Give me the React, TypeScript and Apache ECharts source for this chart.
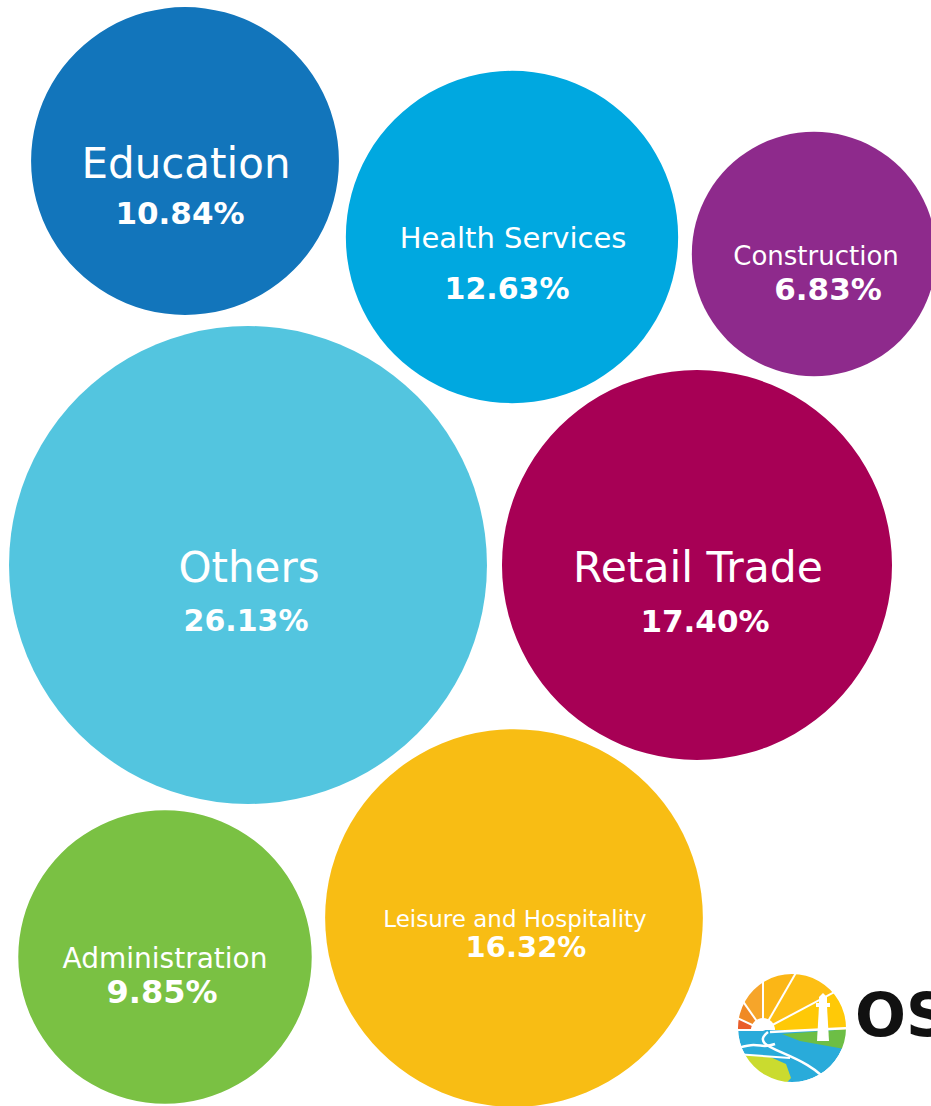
import React, { useEffect, useRef } from "react";
import * as echarts from "echarts";

const categories = [
  "Education",
  "Health Services",
  "Construction",
  "Others",
  "Retail Trade",
  "Administration",
  "Leisure and Hospitality",
];
const shares = [10.84, 12.63, 6.83, 26.13, 17.4, 9.85, 16.32];
const centerX = [185, 512, 814, 248, 697, 165, 514];
const centerY = [161, 237, 254, 565, 565, 957, 918];

const colors = ["#1275BB", "#00A8E0", "#8E2A8C", "#53C5DF", "#A70055", "#7AC143", "#F8BD14"];
// label layout: [offsetX, offsetY, nameLineH, pctLineH, nameSize, pctSize, pctShiftX]
const labelLayout: number[][] = [
  [1, 27, 50, 50, 42, 31, -6],
  [1, 26, 51, 51, 29, 30, -6],
  [2, 19, 31, 35, 26, 31, 12],
  [1, 29, 53, 53, 42, 30, -3],
  [1, 29, 53, 53, 42.5, 31, 7],
  [0, 18, 34, 34, 28, 32, -3],
  [1, 16.75, 24, 31, 23, 29, 11],
];

const RADIUS_K = 46.75;
const FONT = '"DejaVu Sans", sans-serif';

function buildLogo(): any[] {
  const cx = 792;
  const cy = 1028;
  const R = 54;
  const sx = 763;
  const sy = 1030;
  const d2r = Math.PI / 180;
  // distance from sun to logo circle edge along math-angle a
  const reach = (a: number) => {
    const ux = Math.cos(a * d2r);
    const uy = -Math.sin(a * d2r);
    const dx = sx - cx;
    const dy = sy - cy;
    const b = dx * ux + dy * uy;
    const c = dx * dx + dy * dy - R * R;
    return -b + Math.sqrt(b * b - c);
  };
  const wedges = [
    [180, 155, "#E95D2A"],
    [155, 125, "#F08A24"],
    [125, 90, "#F6A52A"],
    [90, 60, "#FBB616"],
    [60, 28, "#FDBF14"],
    [28, 0, "#FFC907"],
  ] as [number, number, string][];
  const els: any[] = [];
  els.push({ type: "circle", shape: { cx, cy, r: R }, style: { fill: "#29ABDA" }, z: 10 });
  wedges.forEach(([a, b, c]) => {
    let r = 0;
    for (let t = b; t <= a; t += 1) r = Math.max(r, reach(t));
    els.push({
      type: "sector",
      shape: { cx: sx, cy: sy, r: r + 2, r0: 0, startAngle: -a * d2r, endAngle: -b * d2r, clockwise: true },
      style: { fill: c },
      z: 11,
    });
  });
  // green land band
  els.push({
    type: "polygon",
    shape: { points: [[782, 1034], [850, 1029], [850, 1050], [800, 1041]] },
    style: { fill: "#6DBE45" },
    z: 12,
  });
  // lime field bottom-left
  els.push({
    type: "polygon",
    shape: { points: [[735, 1054], [768, 1056], [786, 1064], [791, 1078], [780, 1090], [740, 1085]] },
    style: { fill: "#CADB2F" },
    z: 12,
  });
  // river white banks
  els.push({
    type: "bezierCurve",
    shape: { x1: 735, y1: 1049, x2: 775, y2: 1044, cpx1: 760, cpy1: 1040, cpx2: 760, cpy2: 1050 },
    style: { stroke: "#fff", lineWidth: 2.5, fill: null },
    z: 13,
  });
  els.push({
    type: "bezierCurve",
    shape: { x1: 768, y1: 1032, x2: 830, y2: 1085, cpx1: 745, cpy1: 1050, cpx2: 805, cpy2: 1050 },
    style: { stroke: "#fff", lineWidth: 2.5, fill: null },
    z: 13,
  });
  els.push({
    type: "line",
    shape: { x1: 735, y1: 1054, x2: 790, y2: 1058 },
    style: { stroke: "#fff", lineWidth: 2 },
    z: 13,
  });
  // horizon
  els.push({
    type: "line",
    shape: { x1: 770, y1: 1032, x2: 850, y2: 1028 },
    style: { stroke: "#fff", lineWidth: 2.5 },
    z: 13,
  });
  // rays
  [180, 155, 125, 90, 60, 28].forEach((a) => {
    const L = reach(a) + 2;
    els.push({
      type: "line",
      shape: { x1: sx, y1: sy, x2: sx + L * Math.cos(a * d2r), y2: sy - L * Math.sin(a * d2r) },
      style: { stroke: "#fff", lineWidth: 2 },
      z: 13,
    });
  });
  // sun
  els.push({
    type: "sector",
    shape: { cx: sx, cy: sy, r: 12, r0: 0, startAngle: -Math.PI, endAngle: 0, clockwise: true },
    style: { fill: "#fff" },
    z: 14,
  });
  // lighthouse
  els.push({
    type: "polygon",
    shape: { points: [[817, 1041], [829, 1041], [827, 1006], [819, 1006]] },
    style: { fill: "#fff" },
    z: 14,
  });
  els.push({ type: "rect", shape: { x: 816, y: 1003, width: 14, height: 4 }, style: { fill: "#fff" }, z: 14 });
  els.push({ type: "rect", shape: { x: 819, y: 997, width: 8, height: 6 }, style: { fill: "#fff" }, z: 14 });
  els.push({
    type: "polygon",
    shape: { points: [[819, 997], [827, 997], [823, 993]] },
    style: { fill: "#fff" },
    z: 14,
  });
  // mask outside circle
  els.push({ type: "ring", shape: { cx, cy, r: 88, r0: R }, style: { fill: "#fff" }, z: 15 });
  els.push({
    type: "text",
    x: 855,
    y: 1015,
    style: { text: "OS", font: `bold 60px ${FONT}`, fill: "#111", verticalAlign: "middle", align: "left" },
    z: 16,
  });
  return els;
}

export default function App() {
  const ref = useRef<HTMLDivElement>(null);
  useEffect(() => {
    document.body.style.margin = "0";
    if (!ref.current) return;
    const chart = echarts.init(ref.current, undefined, { renderer: "svg" });
    const data = categories.map((name, i) => {
      const [ox, oy, ln, lp, ns, ps, shift] = labelLayout[i];
      return {
        name,
        value: [centerX[i], centerY[i], shares[i]],
        itemStyle: { color: colors[i], opacity: 1 },
        label: {
          show: true,
          position: "inside",
          offset: [ox, oy],
          formatter: `{n|${name}}\n{p|${shares[i].toFixed(2)}%}`,
          rich: {
            n: { fontSize: ns, lineHeight: ln, color: "#fff", fontFamily: FONT, fontWeight: "normal" },
            p: {
              fontSize: ps,
              lineHeight: lp,
              color: "#fff",
              fontFamily: FONT,
              fontWeight: "bold",
              padding: shift >= 0 ? [0, 0, 0, shift * 2] : [0, -shift * 2, 0, 0],
            },
          },
        },
      };
    });
    chart.setOption({
      animation: false,
      grid: { left: 0, right: 0, top: 0, bottom: 0 },
      xAxis: { type: "value", min: 0, max: 931, show: false },
      yAxis: { type: "value", min: 0, max: 1106, inverse: true, show: false },
      series: [
        {
          type: "scatter",
          symbol: "circle",
          symbolSize: (v: number[]) => 2 * RADIUS_K * Math.sqrt(v[2]),
          data,
          emphasis: { disabled: true },
        },
      ],
      graphic: buildLogo(),
    });
    return () => chart.dispose();
  }, []);
  return (
    <div
      ref={ref}
      style={{ position: "absolute", left: 0, top: 0, width: 931, height: 1106 }}
    />
  );
}
